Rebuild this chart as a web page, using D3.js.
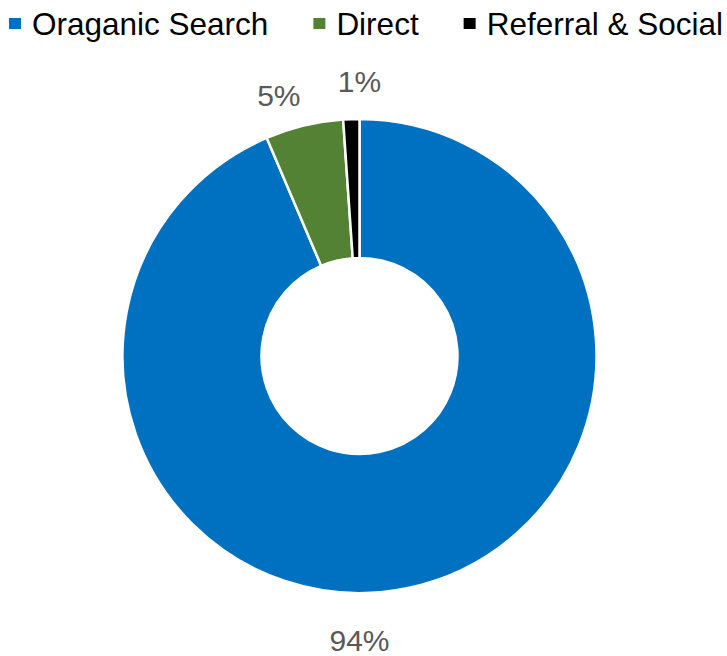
<!DOCTYPE html>
<html>
<head>
<meta charset="utf-8">
<script src="https://cdn.jsdelivr.net/npm/d3@7"></script>
<style>
  body { margin: 0; background: #fff; }
  svg { display: block; font-family: "Liberation Sans", Arial, sans-serif; }
</style>
</head>
<body>
<svg id="chart"></svg>
<script>
// data
var categories = ["Oraganic Search", "Direct", "Referral & Social"];
var shares = [93.6, 5.3, 1.1];
var pctLabels = ["94%", "5%", "1%"];
var colors = ["#0070C0", "#548235", "#000000"];

var width = 727, height = 656;
var cx = 359.5, cy = 356, outerR = 237, innerR = 98;

// where Excel put each data label (angle in radians from 12 o'clock, radius)
var labelSpots = [
  { a: Math.PI, r: 284 },
  { a: -0.30, r: 273 },
  { a: 0, r: 275 }
];

var svg = d3.select("#chart")
  .attr("width", width)
  .attr("height", height);

var data = categories.map(function (c, i) {
  return { name: c, value: shares[i], label: pctLabels[i], color: colors[i] };
});

var pie = d3.pie()
  .sort(null)
  .value(function (d) { return d.value; });

var arc = d3.arc()
  .innerRadius(innerR)
  .outerRadius(outerR);

var g = svg.append("g")
  .attr("transform", "translate(" + cx + "," + cy + ")");

g.selectAll("path.slice")
  .data(pie(data))
  .enter()
  .append("path")
  .attr("class", "slice")
  .attr("d", arc)
  .attr("fill", function (d) { return d.data.color; })
  .attr("stroke", "#fff")
  .attr("stroke-width", 2.5);

// data labels
g.selectAll("text.lbl")
  .data(data)
  .enter()
  .append("text")
  .attr("class", "lbl")
  .attr("x", function (d, i) { return Math.sin(labelSpots[i].a) * labelSpots[i].r; })
  .attr("y", function (d, i) { return -Math.cos(labelSpots[i].a) * labelSpots[i].r; })
  .attr("dy", "0.36em")
  .attr("text-anchor", "middle")
  .attr("fill", "#595959")
  .style("font-size", "30px")
  .text(function (d) { return d.label; });

// legend across the top
var legend = svg.append("g").attr("transform", "translate(9,0)");
var xPos = 0;
data.forEach(function (d) {
  var item = legend.append("g").attr("transform", "translate(" + xPos + ",0)");
  item.append("rect")
    .attr("x", 0)
    .attr("y", 18)
    .attr("width", 12)
    .attr("height", 11)
    .attr("fill", d.color);
  var t = item.append("text")
    .attr("x", 23)
    .attr("y", 35)
    .attr("fill", "#000")
    .style("font-size", "31.5px")
    .text(d.name);
  xPos += 23 + t.node().getComputedTextLength() + 45;
});
</script>
</body>
</html>
